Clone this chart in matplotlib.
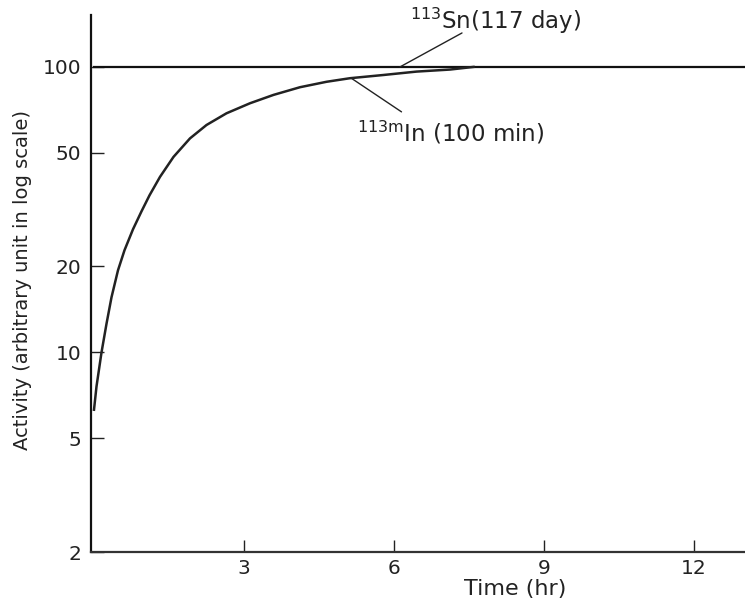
import matplotlib
matplotlib.use("Agg")
import matplotlib.pyplot as plt

# Data
sn_time = [0.0, 13.0]
sn_activity = [100.0, 100.0]

in_time = [0.0, 0.05, 0.15, 0.25, 0.35, 0.48, 0.61, 0.78, 0.95, 1.11, 1.32,
           1.59, 1.92, 2.25, 2.65, 3.12, 3.59, 4.12, 4.65, 5.12, 5.79, 6.45,
           7.12, 7.59]
in_activity = [6.3, 7.6, 10.0, 12.6, 15.6, 19.4, 22.8, 27.0, 31.2, 35.5, 41.2,
               48.4, 56.2, 62.6, 68.8, 74.6, 79.8, 84.9, 88.7, 91.3, 93.7, 96.3,
               97.9, 100.0]

x_ticks = [3, 6, 9, 12]
y_ticks = [2, 5, 10, 20, 50, 100]
y_tick_labels = ["2", "5", "10", "20", "50", "100"]

sn_label = r"$^{113}$Sn(117 day)"
in_label = r"$^{\rm 113m}$In (100 min)"

plt.rcParams["font.family"] = ["DejaVu Sans"]
plt.rcParams["mathtext.fontset"] = "dejavusans"

fig = plt.figure(figsize=(7.45, 5.98), dpi=100)
ax = fig.add_axes([91 / 745, 46 / 598, 654 / 745, 537 / 598])

ax.plot(sn_time, sn_activity, color="#111111", lw=1.6)
ax.plot(in_time, in_activity, color="#222222", lw=1.8,
        solid_joinstyle="round")

ax.set_yscale("log")
ax.set_xlim(-0.06, 13.02)
ax.set_ylim(2, 152)

ax.set_yticks(y_ticks)
ax.set_yticklabels(y_tick_labels)
ax.yaxis.set_minor_locator(matplotlib.ticker.NullLocator())
ax.set_xticks(x_ticks)

ax.tick_params(axis="both", direction="in", length=9, width=1.0,
               labelsize=14.5, colors="#222222")
ax.tick_params(axis="y", pad=7)
ax.tick_params(axis="x", pad=5)

for s in ["top", "right"]:
    ax.spines[s].set_visible(False)
ax.spines["left"].set_color("#111111")
ax.spines["left"].set_linewidth(1.6)
ax.spines["bottom"].set_color("#333333")
ax.spines["bottom"].set_linewidth(1.6)

ax.set_xlabel("Time (hr)", fontsize=16, color="#222222")
ax.xaxis.set_label_coords(0.648, -0.050)
ax.set_ylabel("Activity (arbitrary unit in log scale)", fontsize=14,
              color="#222222")
ax.yaxis.set_label_coords(-0.090, 0.5065)

# annotations
ax.annotate("", xy=(6.12, 100), xytext=(7.36, 131.5),
            arrowprops=dict(arrowstyle="-", lw=1.0, color="#222222",
                            shrinkA=0, shrinkB=0))
ax.text(6.32, 136, sn_label, ha="left", va="baseline", fontsize=16.5,
        color="#222222")
ax.annotate("", xy=(5.15, 91.2), xytext=(6.15, 69.6),
            arrowprops=dict(arrowstyle="-", lw=1.0, color="#222222",
                            shrinkA=0, shrinkB=0))
ax.text(5.26, 55, in_label, ha="left", va="baseline", fontsize=16.5,
        color="#222222")

fig.savefig("out.png", dpi=100)
